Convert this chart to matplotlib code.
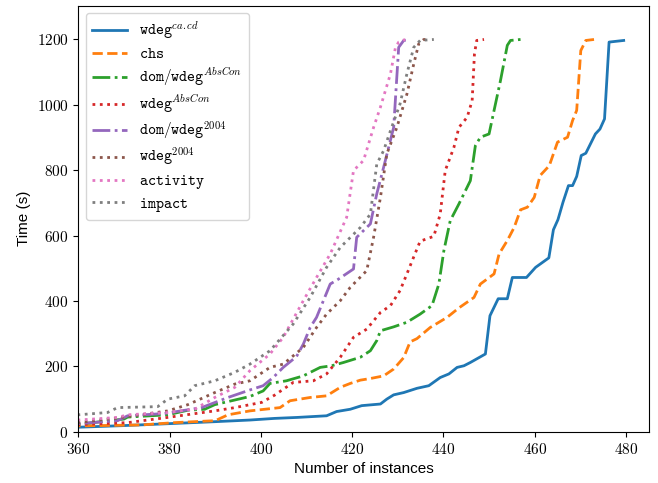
import matplotlib
matplotlib.use("Agg")
import matplotlib.pyplot as plt
from matplotlib.ticker import FuncFormatter

plt.rcParams['mathtext.fontset'] = 'cm'

# cactus curves: (number of instances, time in s)
wdeg_cacd_x = [355, 360, 370, 380, 390, 397.6, 403, 408, 414.4, 416.6, 419.6, 422.1, 426.2, 427.6, 429.1,
               431.3, 434.2, 436.8, 439.3, 441.2, 443, 444.5, 445.9, 449.2, 450.2, 452, 454, 455.1, 458.2,
               460.2, 463.1, 464.1, 465.1, 466.2, 467.4, 468.3, 469.2, 470.2, 471.2, 473.3, 474.3, 475.3,
               476.3, 479.5]
wdeg_cacd_y = [10, 14, 19, 25, 31, 36, 41, 44, 49, 62, 69, 80, 85, 100, 113,
               120, 133, 141, 166, 177, 197, 202, 212, 238, 355, 407, 407, 472, 472,
               503, 532, 618, 649, 702, 753, 753, 781, 845, 852, 911, 926, 957,
               1192, 1197]

chs_x = [355, 360, 373.8, 381, 390, 392.8, 397.6, 404.2, 406.4, 410.8, 414.4, 417.4, 419.6, 421.8, 424,
         426.9, 429.1, 431.3, 432.7, 434.2, 437.1, 440.8, 443.4, 446.7, 448.1, 451.1, 452.2, 454, 455.5,
         456.9, 458.4, 459.9, 461.2, 463.2, 465, 467.2, 468.3, 469.2, 470.1, 471.2, 473]
chs_y = [14, 18, 21, 28, 34, 52, 64, 74, 95, 105, 110, 136, 148, 158, 163,
         171, 192, 227, 275, 285, 319, 350, 379, 411, 452, 483, 544, 585, 625,
         679, 687, 717, 784, 814, 886, 901, 952, 983, 1166, 1197, 1200]

domwdeg_abscon_x = [355, 360, 370, 370.8, 379.6, 384, 387.7, 389.9, 393.6, 397.6, 400.5, 402, 405.6, 409.3,
                    413, 415.5, 418.1, 421.8, 424, 425.4, 426.2, 429.1, 432, 434.9, 437.5, 439, 440.1,
                    441.5, 443.4, 445.9, 447, 448.1, 450, 451.1, 452.5, 454, 454.7, 456.9]
domwdeg_abscon_y = [18, 23, 39, 45, 52, 66, 69, 83, 95, 108, 125, 148, 156, 171,
                    197, 202, 212, 228, 248, 279, 309, 321, 335, 360, 386, 452, 554,
                    646, 697, 768, 875, 901, 911, 983, 1074, 1182, 1197, 1200]

wdeg_abscon_x = [355, 360, 370.8, 379.6, 384.7, 389.9, 394.3, 400.2, 403, 407.1, 411.5, 414.4, 417.4, 420.3,
                 423.2, 426.2, 428.4, 430.5, 432, 433.5, 434.9, 437.9, 439.3, 440.4, 442.3, 443.4, 445.2,
                 446.3, 446.8, 447.3, 448.9]
wdeg_abscon_y = [16, 22, 28, 44, 54, 64, 74, 90, 112, 151, 156, 177, 228, 289,
                 314, 365, 386, 432, 483, 535, 583, 598, 666, 799, 870, 931, 962,
                 1013, 1156, 1197, 1200]

domwdeg_2004_x = [355, 360, 368.6, 370.8, 378.9, 387, 392.8, 397.6, 400.5, 402.7, 404.9, 407.8, 409.3, 410.8,
                  412.2, 415.2, 417, 420.3, 421, 424, 425.4, 426.9, 429.1, 430.2, 431.3, 432.7]
domwdeg_2004_y = [20, 25, 34, 49, 56, 74, 105, 128, 141, 166, 197, 230, 268, 319,
                  350, 452, 467, 498, 595, 636, 728, 809, 931, 1176, 1197, 1200]

wdeg_2004_x = [355, 360, 370, 379.6, 384, 389.9, 394.3, 397.6, 402, 404.9, 409.3, 412.2, 414.4, 417.4,
               419.6, 423.2, 424.7, 426.2, 427.6, 429.8, 432, 433.5, 434.6, 435.7, 437]
wdeg_2004_y = [22, 28, 45, 64, 83, 120, 146, 156, 197, 207, 258, 319, 360, 401,
               442, 493, 595, 717, 850, 931, 1033, 1125, 1187, 1200, 1200]

activity_x = [355, 360, 368.6, 370.8, 379.6, 385.5, 389.9, 394.3, 397.6, 402, 404.9, 409.3, 412.2, 415.2,
              418.8, 420.3, 422.5, 424.7, 426.2, 428.4, 429.5, 430.2, 431.6]
activity_y = [30, 36, 44, 52, 59, 69, 105, 136, 187, 238, 289, 401, 472, 544,
              656, 799, 830, 931, 993, 1095, 1176, 1192, 1200]

impact_x = [355, 360, 366.4, 368.6, 377.4, 379.6, 383.3, 385.5, 389.9, 394.3, 397.6, 402, 407.1, 410.8,
            414.4, 417.4, 421.8, 424, 425.4, 426.9, 428.4, 430.5, 432, 433.5, 434.9, 437.9]
impact_y = [45, 52, 59, 74, 77, 100, 110, 141, 156, 182, 207, 248, 330, 411,
            503, 564, 625, 666, 819, 860, 921, 1003, 1095, 1176, 1197, 1200]

series = [
    (wdeg_cacd_x, wdeg_cacd_y, r'$\mathtt{wdeg}^{ca.cd}$', '-'),
    (chs_x, chs_y, r'$\mathtt{chs}$', '--'),
    (domwdeg_abscon_x, domwdeg_abscon_y, r'$\mathtt{dom/wdeg}^{AbsCon}$', '-.'),
    (wdeg_abscon_x, wdeg_abscon_y, r'$\mathtt{wdeg}^{AbsCon}$', ':'),
    (domwdeg_2004_x, domwdeg_2004_y, r'$\mathtt{dom/wdeg}^{2004}$', '-.'),
    (wdeg_2004_x, wdeg_2004_y, r'$\mathtt{wdeg}^{2004}$', ':'),
    (activity_x, activity_y, r'$\mathtt{activity}$', ':'),
    (impact_x, impact_y, r'$\mathtt{impact}$', ':'),
]

fig = plt.figure(figsize=(6.58, 4.83), dpi=100)
ax = fig.add_axes([0.119, 0.106, 0.867, 0.882])

for xs, ys, label, ls in series:
    ax.plot(xs, ys, linestyle=ls, linewidth=2, label=label)

ax.set_xlim(360, 485)
ax.set_ylim(0, 1303)
ax.set_xticks([360, 380, 400, 420, 440, 460, 480])
ax.set_yticks([0, 200, 400, 600, 800, 1000, 1200])
fmt = FuncFormatter(lambda v, p: r'$%d$' % v)
ax.xaxis.set_major_formatter(fmt)
ax.yaxis.set_major_formatter(fmt)
ax.tick_params(labelsize=11)

ax.set_xlabel('Number of instances', family='Liberation Sans', fontsize=11)
ax.set_ylabel('Time (s)', family='Liberation Sans', fontsize=11)

ax.legend(loc='upper left', fontsize=11, handlelength=2.3, labelspacing=0.3)

fig.savefig('out.png', dpi=100)
